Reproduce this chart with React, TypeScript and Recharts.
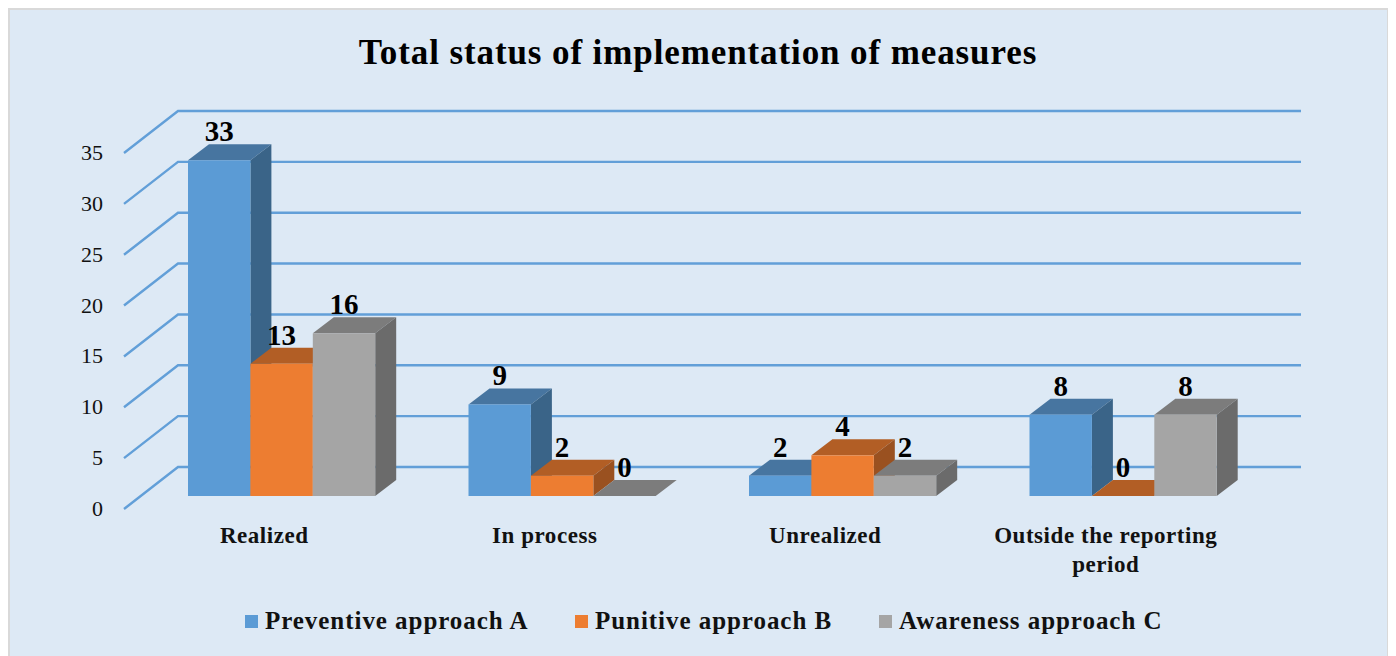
import React from "react";
import { BarChart, Bar, XAxis, YAxis, CartesianGrid, LabelList, Legend } from "recharts";

const categories = ["Realized", "In process", "Unrealized", "Outside the reporting period"];
const preventiveA = [33, 9, 2, 8];
const punitiveB = [13, 2, 4, 0];
const awarenessC = [16, 0, 2, 8];
const yTicks = [0, 5, 10, 15, 20, 25, 30, 35];
const seriesNames = ["Preventive approach A", "Punitive approach B", "Awareness approach C"];
const seriesKeys = ["a", "b", "c"];
const fronts = ["#5B9BD5", "#ED7D31", "#A5A5A5"];
const tops = ["#4775A0", "#B25E25", "#7C7C7C"];
const sides = ["#3A6488", "#9A5120", "#6B6B6B"];

const data = categories.map((name, i) => ({
  name,
  a: preventiveA[i],
  b: punitiveB[i],
  c: awarenessC[i],
}));

const FONT = "'Liberation Serif', 'Times New Roman', serif";
const W = 1381;
const H = 648;
const M = { top: 132, right: 126, bottom: 159, left: 132 };
const DX = 21;
const DY = 16;

const makeShape = (idx: number) => (props: any) => {
  const { x, y, width, height } = props;
  const base = y + height;
  const right = x + width;
  return (
    <g>
      <path
        d={`M${x},${y}L${x + DX},${y - DY}L${right + DX},${y - DY}L${right},${y}Z`}
        fill={tops[idx]}
      />
      {height > 0 && (
        <path
          d={`M${right},${y}L${right + DX},${y - DY}L${right + DX},${base - DY}L${right},${base}Z`}
          fill={sides[idx]}
        />
      )}
      {height > 0 && <rect x={x} y={y} width={width} height={height} fill={fronts[idx]} />}
    </g>
  );
};

const gridLine = (props: any) => {
  const { x1, x2, y1, key } = props;
  return (
    <polyline
      key={key}
      points={`${x1 - 17},${y1 + 13} ${x1 + 37},${y1 - 29} ${x2 + 38},${y1 - 29}`}
      fill="none"
      stroke="#629FD8"
      strokeWidth={2.4}
    />
  );
};

const YTick = (props: any) => (
  <text
    x={95}
    y={props.y + 12.5}
    textAnchor="end"
    dominantBaseline="central"
    fontFamily={FONT}
    fontSize={22}
    fill="#111"
  >
    {props.payload.value}
  </text>
);

const XTick = (props: any) => {
  const words = String(props.payload.value).split(" ");
  const lines = words.length > 3 ? [words.slice(0, -1).join(" "), words[words.length - 1]] : [words.join(" ")];
  return (
    <text
      x={props.x - 17}
      y={props.y + 39}
      textAnchor="middle"
      fontFamily={FONT}
      fontSize={23}
      fontWeight="bold"
      letterSpacing={0.55}
      fill="#111"
    >
      {lines.map((l, i) => (
        <tspan key={l} x={props.x - 17} dy={i === 0 ? 0 : 29}>
          {l}
        </tspan>
      ))}
    </text>
  );
};

const BarValue = (props: any) => {
  const { x, y, width, value } = props;
  return (
    <text
      x={x + width / 2}
      y={y - 19}
      textAnchor="middle"
      fontFamily={FONT}
      fontSize={29}
      fontWeight="bold"
      fill="#000"
    >
      {value}
    </text>
  );
};

const legendStarts = [237, 567, 871];
const LegendContent = (props: any) => (
  <div style={{ position: "relative", width: W, height: 40 }}>
    {(props.payload || []).map((p: any, i: number) => (
      <div
        key={p.value}
        style={{
          position: "absolute",
          left: legendStarts[i],
          top: 0,
          display: "flex",
          alignItems: "center",
          height: 40,
          fontFamily: FONT,
          fontSize: 25,
          fontWeight: "bold",
          letterSpacing: 0.95,
          color: "#111",
          whiteSpace: "nowrap",
        }}
      >
        <span style={{ width: 13, height: 13, background: p.color, marginRight: 7, display: "inline-block" }} />
        {p.value}
      </div>
    ))}
  </div>
);

export default function App() {
  return (
    <div
      style={{
        position: "relative",
        width: W,
        height: H,
        background: "#DDE9F5",
        boxShadow: "inset 2px 2px 0 #D9D9D9, inset -2px 0 0 #D9D9D9",
      }}
    >
      <style>{"html,body{overflow:hidden}"}</style>
      <BarChart width={W} height={H} data={data} margin={M} barSize={62.4} barGap={0}>
        <text
          x={690}
          y={56}
          textAnchor="middle"
          fontFamily={FONT}
          fontSize={35}
          fontWeight="bold"
          letterSpacing={0.9}
          fill="#000"
        >
          Total status of implementation of measures
        </text>
        <CartesianGrid horizontal={gridLine} vertical={false} />
        <XAxis dataKey="name" axisLine={false} tickLine={false} height={1} tick={<XTick />} interval={0} />
        <YAxis width={1} domain={[0, 35]} ticks={yTicks} axisLine={false} tickLine={false} tick={<YTick />} />
        <Legend
          layout="horizontal"
          verticalAlign="middle"
          align="center"
          itemSorter={null}
          content={<LegendContent />}
          wrapperStyle={{ left: 0, top: 593, width: W, height: 40, margin: 0 }}
        />
        {seriesKeys.map((k, i) => (
          <Bar
            key={k}
            dataKey={k}
            name={seriesNames[i]}
            fill={fronts[i]}
            shape={makeShape(i)}
            isAnimationActive={false}
          >
            <LabelList dataKey={k} content={<BarValue />} />
          </Bar>
        ))}
      </BarChart>
    </div>
  );
}
